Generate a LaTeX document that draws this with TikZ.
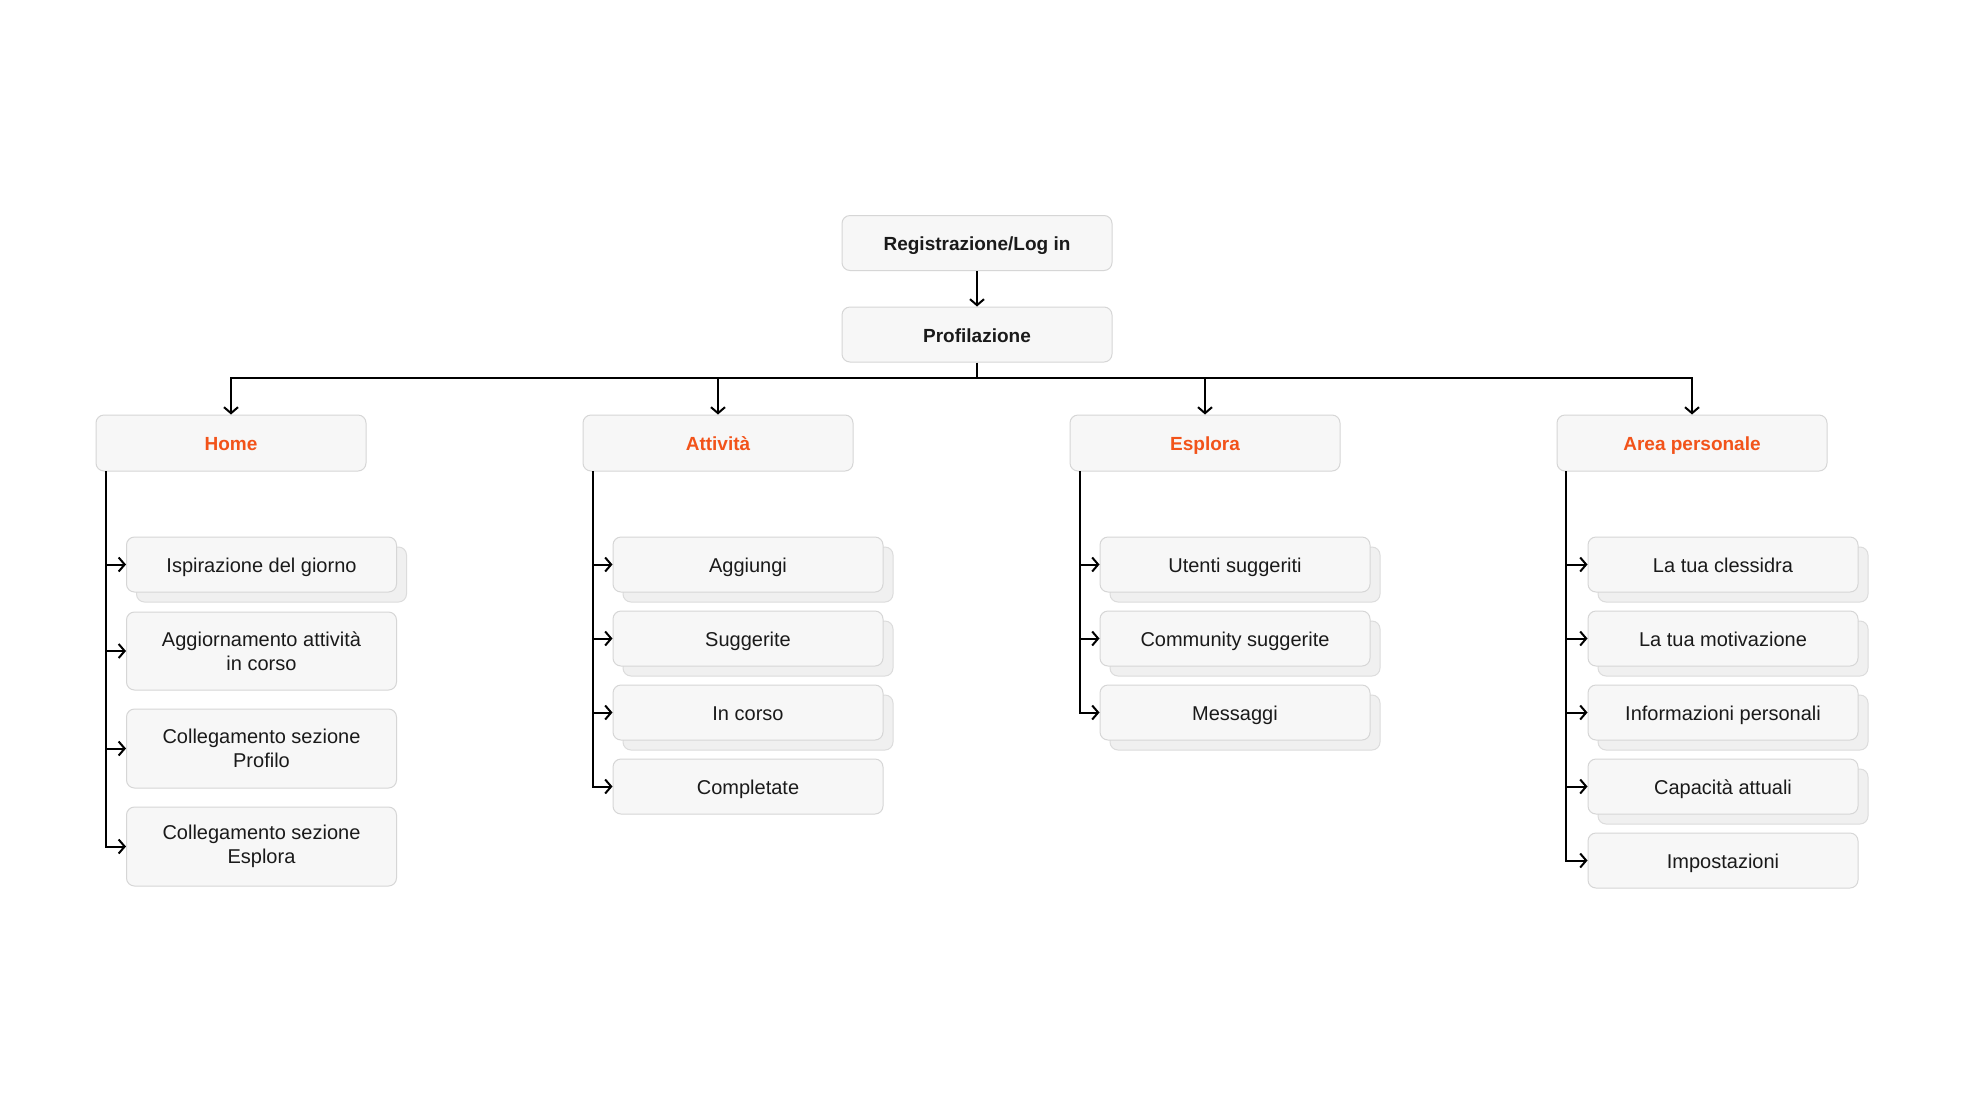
\documentclass[tikz,border=0pt]{standalone}
\usepackage{fontspec}
\setmainfont{Liberation Sans}
\usetikzlibrary{arrows.meta,shadows}

\definecolor{boxfill}{HTML}{F7F7F7}
\definecolor{boxline}{HTML}{D6D6D6}
\definecolor{backfill}{HTML}{F0F0F0}
\definecolor{backline}{HTML}{DCDCDC}
\definecolor{accent}{HTML}{F2531A}
\definecolor{ink}{HTML}{1A1A1A}

\tikzset{
  basecard/.style={draw=boxline, line width=1pt, fill=boxfill, rounded corners=8pt,
    minimum width=270pt, minimum height=55pt, inner sep=0pt, align=center,
    text=ink, font=\fontsize{20}{24}\selectfont},
  card/.style={basecard, text height=17pt, text depth=2pt},
  tallcard/.style={basecard, minimum height=79pt},
  stacked/.style={copy shadow={shadow xshift=10pt, shadow yshift=-10pt,
    fill=backfill, draw=backline, line width=1pt}},
  topcard/.style={card, font=\fontsize{19}{23}\selectfont\bfseries},
  sectioncard/.style={card, minimum height=56pt, text=accent,
    font=\fontsize{19}{23}\selectfont\bfseries},
  link/.style={line width=2pt, draw=black},
  arrowlink/.style={link, -{Straight Barb[length=6pt,width=14pt,line width=2pt]}},
}

\begin{document}
\begin{tikzpicture}[x=1pt,y=-1pt]
  \useasboundingbox[fill=white] (0,0) rectangle (1963,1104);

  % entry flow
  \node[topcard] (reg) at (977,243) {Registrazione/Log in};
  \node[topcard] (prof) at (977,334.5) {Profilazione};

  % sections
  \node[sectioncard] (home) at (231,443) {Home};
  \node[sectioncard] (att) at (718,443) {Attività};
  \node[sectioncard] (esp) at (1205,443) {Esplora};
  \node[sectioncard] (area) at (1692,443) {Area personale};

  % Home pages
  \node[card, stacked] (h1) at (261.5,564.5) {Ispirazione del giorno};
  \node[tallcard, minimum height=78pt] (h2) at (261.5,651) {Aggiornamento attività\\in corso};
  \node[tallcard] (h3) at (261.5,748.5) {Collegamento sezione\\Profilo};
  \node[tallcard] (h4) at (261.5,846.5) {Collegamento sezione\\Esplora};

  % Attività pages
  \node[card, stacked] (a1) at (748,564.5) {Aggiungi};
  \node[card, stacked] (a2) at (748,638.5) {Suggerite};
  \node[card, stacked] (a3) at (748,712.5) {In corso};
  \node[card] (a4) at (748,786.5) {Completate};

  % Esplora pages
  \node[card, stacked] (e1) at (1235,564.5) {Utenti suggeriti};
  \node[card, stacked] (e2) at (1235,638.5) {Community suggerite};
  \node[card, stacked] (e3) at (1235,712.5) {Messaggi};

  % Area personale pages
  \node[card, stacked] (p1) at (1723,564.5) {La tua clessidra};
  \node[card, stacked] (p2) at (1723,638.5) {La tua motivazione};
  \node[card, stacked] (p3) at (1723,712.5) {Informazioni personali};
  \node[card, stacked] (p4) at (1723,786.5) {Capacità attuali};
  \node[card] (p5) at (1723,860.5) {Impostazioni};

  % top connectors
  \draw[arrowlink] (reg.south) -- (prof.north);
  \coordinate (bus) at (977,378);
  \draw[link] (prof.south) -- (bus);
  \foreach \s in {home,att,esp,area}
    \draw[arrowlink] (bus) -| (\s.north);

  % section trunks
  \coordinate (th) at (106,471);
  \coordinate (ta) at (593,471);
  \coordinate (te) at (1080,471);
  \coordinate (tp) at (1566,471);
  \foreach \c in {h1,h2,h3,h4}
    \draw[arrowlink, line join=miter] (th) |- (\c.west);
  \foreach \c in {a1,a2,a3,a4}
    \draw[arrowlink, line join=miter] (ta) |- (\c.west);
  \foreach \c in {e1,e2,e3}
    \draw[arrowlink, line join=miter] (te) |- (\c.west);
  \foreach \c in {p1,p2,p3,p4,p5}
    \draw[arrowlink, line join=miter] (tp) |- (\c.west);
\end{tikzpicture}
\end{document}
